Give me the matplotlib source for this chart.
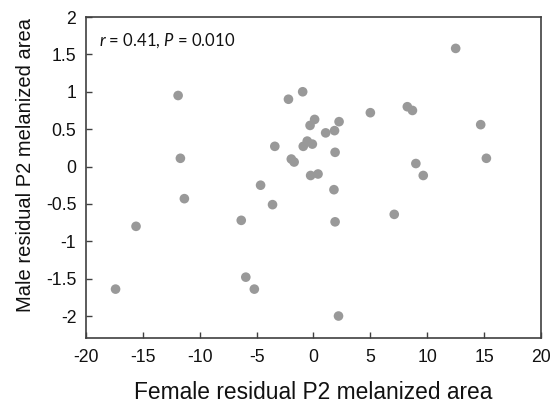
import matplotlib
matplotlib.use("Agg")
import matplotlib.pyplot as plt

female = [-17.4, -15.6, -11.9, -11.7, -11.35, -6.35, -5.95, -5.2, -4.65, -3.6,
          -3.4, -2.2, -1.95, -1.7, -0.95, -0.9, -0.55, -0.3, -0.25, -0.1,
          0.1, 0.4, 1.07, 1.8, 1.85, 1.9, 1.9, 2.2, 2.25, 5.0,
          7.1, 8.25, 8.7, 9.0, 9.65, 12.5, 14.7, 15.2]
male = [-1.64, -0.80, 0.95, 0.11, -0.43, -0.72, -1.48, -1.64, -0.25, -0.51,
        0.27, 0.90, 0.10, 0.06, 1.00, 0.27, 0.34, 0.55, -0.12, 0.30,
        0.63, -0.10, 0.45, -0.31, 0.48, 0.19, -0.74, -2.00, 0.60, 0.72,
        -0.64, 0.80, 0.75, 0.04, -0.12, 1.58, 0.56, 0.11]

xticks = [-20, -15, -10, -5, 0, 5, 10, 15, 20]
yticks = [-2, -1.5, -1, -0.5, 0, 0.5, 1, 1.5, 2]
ytick_labels = ["-2", "-1.5", "-1", "-0.5", "0", "0.5", "1", "1.5", "2"]

plt.rcParams['font.family'] = ['Liberation Sans', 'DejaVu Sans']
plt.rcParams['mathtext.fontset'] = 'custom'
plt.rcParams['mathtext.rm'] = 'Lato'
plt.rcParams['mathtext.it'] = 'Lato:italic'

fig = plt.figure(figsize=(5.54, 4.04), dpi=100)
ax = fig.add_axes([0.1552, 0.1641, 0.8213, 0.7938])

ax.scatter(female, male, s=48, color='#999999', edgecolors='none', zorder=3)

ax.set_xlim(-20, 20)
ax.set_ylim(-2.29, 2)
ax.set_xticks(xticks)
ax.set_xticklabels([str(t) for t in xticks])
ax.set_yticks(yticks)
ax.set_yticklabels(ytick_labels)

for sp in ax.spines.values():
    sp.set_color('#404040')
    sp.set_linewidth(1.2)
ax.tick_params(direction='in', length=4, width=1, color='#404040',
               labelsize=12.7, labelcolor='#111111')
ax.tick_params(axis='x', pad=8)
ax.tick_params(axis='y', pad=7)

ax.set_xlabel('Female residual P2 melanized area', fontsize=16.4, color='#111111',
              va='baseline')
ax.xaxis.set_label_coords(0.5, -0.19)
ax.set_ylabel('Male residual P2 melanized area', fontsize=14.5, color='#111111',
              va='center')
ax.yaxis.set_label_coords(-0.134, 0.54)

ax.text(0.028, 0.925, r'$r$ = 0.41, $P$ = 0.010', transform=ax.transAxes,
        fontsize=12, family='Lato', va='center', ha='left', color='#111111')

fig.savefig('out.png', dpi=100)
